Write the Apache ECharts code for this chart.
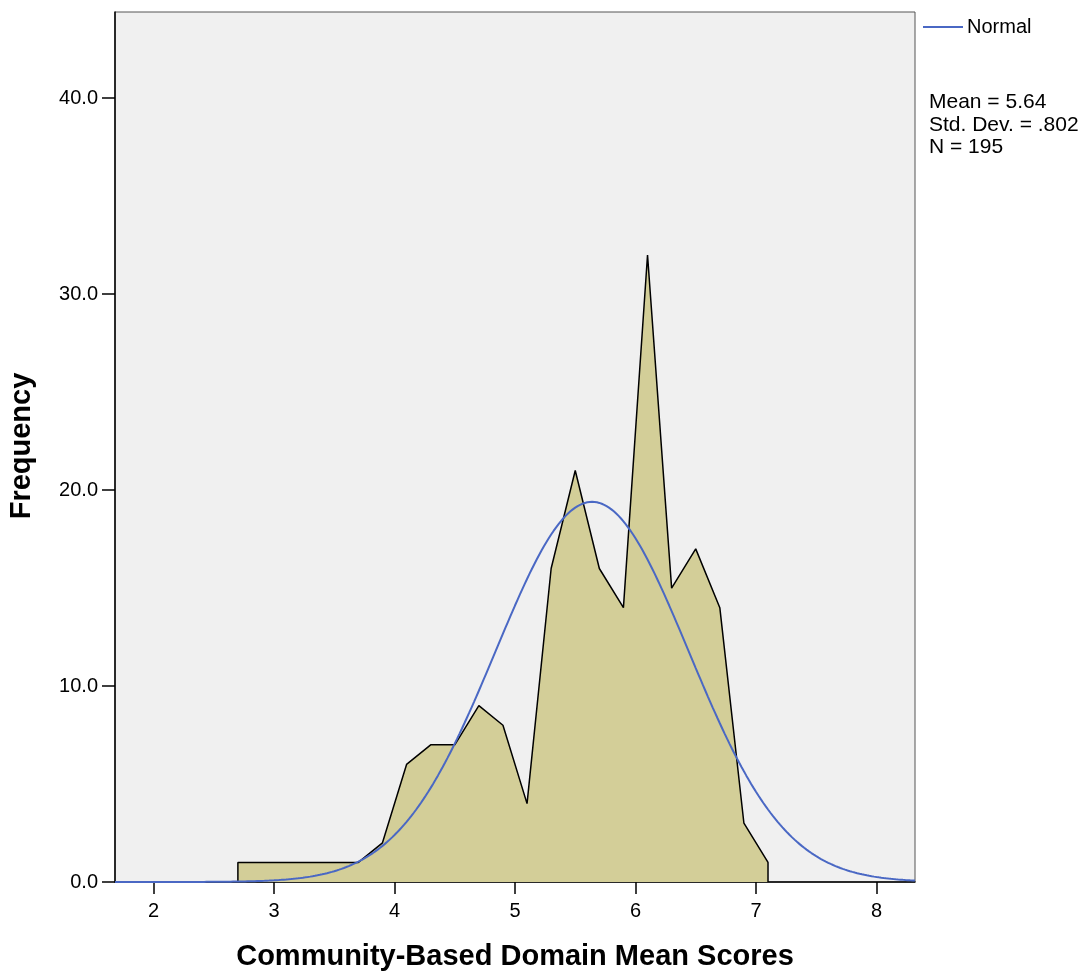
<!DOCTYPE html>
<html>
<head>
<meta charset="utf-8">
<script src="https://cdn.jsdelivr.net/npm/echarts@6/dist/echarts.min.js"></script>
<style>
  html, body { margin: 0; padding: 0; background: #fff; }
  #chart { width: 1089px; height: 978px; }
</style>
</head>
<body>
<div id="chart"></div>
<script>
// frequency polygon vertices (bin midpoints, width 0.2)
const scoreX = [2.7, 2.7, 3.7, 3.9, 4.1, 4.3, 4.5, 4.7, 4.9, 5.1, 5.3, 5.5, 5.7, 5.9, 6.1, 6.3, 6.5, 6.7, 6.9, 7.1, 7.1];
const freqY = [0, 1, 1, 2, 6, 7, 7, 9, 8, 4, 16, 21, 16, 14, 32, 15, 17, 14, 3, 1, 0];
const xTicks = [2, 3, 4, 5, 6, 7, 8];
const yTicks = [0, 10, 20, 30, 40];
const statLines = ['Mean = 5.64', 'Std. Dev. = .802', 'N = 195'];
const mean = 5.64;
const sd = 0.802;
const n = 195;
const binWidth = 0.2;
const xMin = 1.68;
const xMax = 8.32;

const polygon = scoreX.map((x, i) => [x, freqY[i]]);

// fitted normal curve, scaled to counts per bin
const normal = [];
for (let x = xMin; x <= xMax + 1e-9; x += 0.02) {
  const z = (x - mean) / sd;
  normal.push([x, n * binWidth * Math.exp(-0.5 * z * z) / (sd * Math.sqrt(2 * Math.PI))]);
}

const font = 'Liberation Sans, Arial, sans-serif';
const chart = echarts.init(document.getElementById('chart'));
chart.setOption({
  animation: false,
  textStyle: { fontFamily: font },
  grid: {
    left: 115, right: 174, top: 12, bottom: 96,
    show: true, backgroundColor: '#f0f0f0', borderColor: '#555', borderWidth: 1
  },
  legend: {
    left: 918, top: 12,
    itemWidth: 40, itemHeight: 2, itemGap: 4,
    data: [{ name: 'Normal', icon: 'rect' }],
    textStyle: { fontFamily: font, fontSize: 20, color: '#000', padding: [0, 0, 0, -1] }
  },
  xAxis: {
    type: 'value', min: xMin, max: xMax,
    axisLine: { onZero: false, lineStyle: { color: '#000', width: 1.5 } },
    axisTick: { show: true, length: 12, customValues: xTicks, lineStyle: { color: '#000', width: 1.5 } },
    axisLabel: { customValues: xTicks, fontSize: 20, color: '#000', margin: 19 },
    splitLine: { show: false }
  },
  yAxis: {
    type: 'value', min: 0, max: 44.4,
    axisLine: { show: true, lineStyle: { color: '#000', width: 1.5 } },
    axisTick: { show: true, length: 13, customValues: yTicks, lineStyle: { color: '#000', width: 1.5 } },
    axisLabel: { customValues: yTicks, fontSize: 20, color: '#000', margin: 17,
      formatter: v => v.toFixed(1) },
    splitLine: { show: false }
  },
  series: [
    {
      name: 'Frequency',
      type: 'line',
      data: polygon,
      symbol: 'none',
      lineStyle: { color: '#000', width: 1.5 },
      areaStyle: { color: '#d3ce98', opacity: 1 },
      z: 2
    },
    {
      name: 'Normal',
      type: 'line',
      data: normal,
      symbol: 'none',
      lineStyle: { color: '#4a68c4', width: 2 },
      itemStyle: { color: '#4a68c4' },
      z: 3
    }
  ],
  graphic: [
    {
      type: 'text', left: 929, top: 91,
      style: { text: statLines.join('\n'), fontFamily: font, fontSize: 21, lineHeight: 22.5, fill: '#000' }
    },
    {
      type: 'text', x: 515, y: 957,
      style: { text: 'Community-Based Domain Mean Scores', fontFamily: font, fontSize: 29, fontWeight: 'bold',
        fill: '#000', align: 'center', verticalAlign: 'middle' }
    },
    {
      type: 'text', x: 22, y: 446, rotation: Math.PI / 2,
      style: { text: 'Frequency', fontFamily: font, fontSize: 29, fontWeight: 'bold',
        fill: '#000', align: 'center', verticalAlign: 'middle' }
    }
  ]
});
</script>
</body>
</html>
